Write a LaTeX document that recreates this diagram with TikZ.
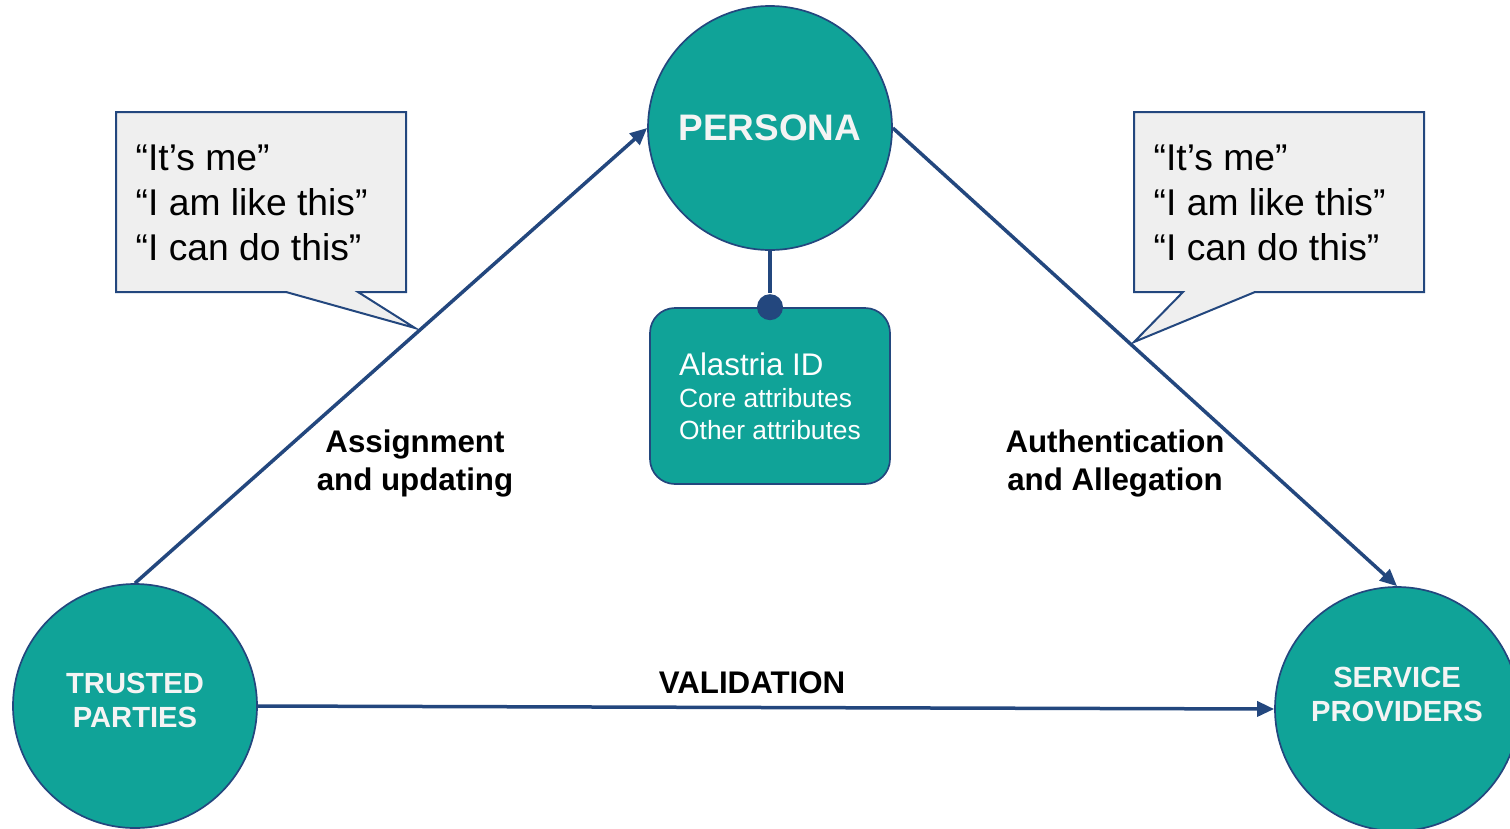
\documentclass[tikz,border=0pt]{standalone}
\usepackage{fontspec}
\setmainfont{Liberation Sans}
\usepackage{tikz}
\usetikzlibrary{arrows.meta,calc}
\definecolor{teal1}{HTML}{10A398}
\definecolor{navy1}{HTML}{23477E}
\definecolor{quotegray}{HTML}{EFEFEF}
\definecolor{offwhite}{HTML}{F4F4F4}
\tikzset{
	party/.style={circle, draw=navy1, line width=0.17mm, fill=teal1, minimum size=2.44cm, inner sep=0pt},
	partytext/.style={text=offwhite, font=\bfseries\fontsize{8.3}{9.7}\selectfont, align=center},
	flow/.style={draw=navy1, line width=0.35mm, -{Triangle[length=1.7mm, width=1.5mm]}},
	quotebox/.style={draw=navy1, line width=0.2mm, fill=quotegray},
	quotetext/.style={font=\fontsize{10.6}{12.8}\selectfont, align=left, anchor=west, inner sep=0pt},
	flowlabel/.style={font=\bfseries\fontsize{8.9}{10.8}\selectfont, align=center}
}

\begin{document}
\begin{tikzpicture}
			%%%%% START %%%%%
			\useasboundingbox (0, 0) rectangle (15.10, -8.28);
			
			% quote boxes
			\draw[quotebox] (1.16, -1.12) -- (4.06, -1.12) -- (4.06, -2.92) -- (3.58, -2.92) -- (4.15, -3.28) -- (2.86, -2.92) -- (1.16, -2.92) -- cycle;
			\node[quotetext] (leftquote) at (1.35, -2.03) {“It’s me”\\“I am like this”\\“I can do this”};
			
			\draw[quotebox] (11.34, -1.12) -- (14.24, -1.12) -- (14.24, -2.92) -- (12.55, -2.92) -- (11.34, -3.42) -- (11.83, -2.92) -- (11.34, -2.92) -- cycle;
			\node[quotetext] (rightquote) at (11.53, -2.03) {“It’s me”\\“I am like this”\\“I can do this”};
			
			% the three parties
			\node[party, font=\bfseries\fontsize{10.5}{12}\selectfont, text=offwhite] (persona) at (7.70, -1.28) {PERSONA};
			\node[party] (trusted) at (1.35, -7.06) {};
			\node[partytext] (trustedtxt) at (1.35, -7.00) {TRUSTED\\PARTIES};
			\node[party] (service) at (13.97, -7.09) {};
			\node[partytext] (servicetxt) at (13.97, -6.94) {SERVICE\\PROVIDERS};
			
			% identity box
			\node[draw=navy1, line width=0.17mm, fill=teal1, rounded corners=0.25cm, minimum width=2.40cm, minimum height=1.76cm, align=left, text=white, font=\fontsize{7.5}{9.1}\selectfont] (idbox) at (7.70, -3.96)
				{{\fontsize{8.9}{10}\selectfont Alastria ID}\\{\fontsize{7.5}{9.1}\selectfont Core attributes}\\{\fontsize{7.5}{9.1}\selectfont Other attributes}};
			\node[circle, fill=navy1, minimum size=0.26cm, inner sep=0pt] (pin) at (idbox.north) {};
			\draw[navy1, line width=0.35mm] (persona.south) -- (pin);
			
			% flows
			\draw[flow] (trusted.north) -- (persona.west);
			\draw[flow] (persona.east) -- (service.north);
			\draw[flow] (trusted.east) -- (service.west);
			
			\node[flowlabel] (assign) at (4.15, -4.63) {Assignment\\and updating};
			\node[flowlabel] (auth) at (11.15, -4.63) {Authentication\\and Allegation};
			\node[flowlabel] (valid) at (7.52, -6.83) {VALIDATION};
			
			%%%%% END %%%%%
		\end{tikzpicture}
\end{document}
